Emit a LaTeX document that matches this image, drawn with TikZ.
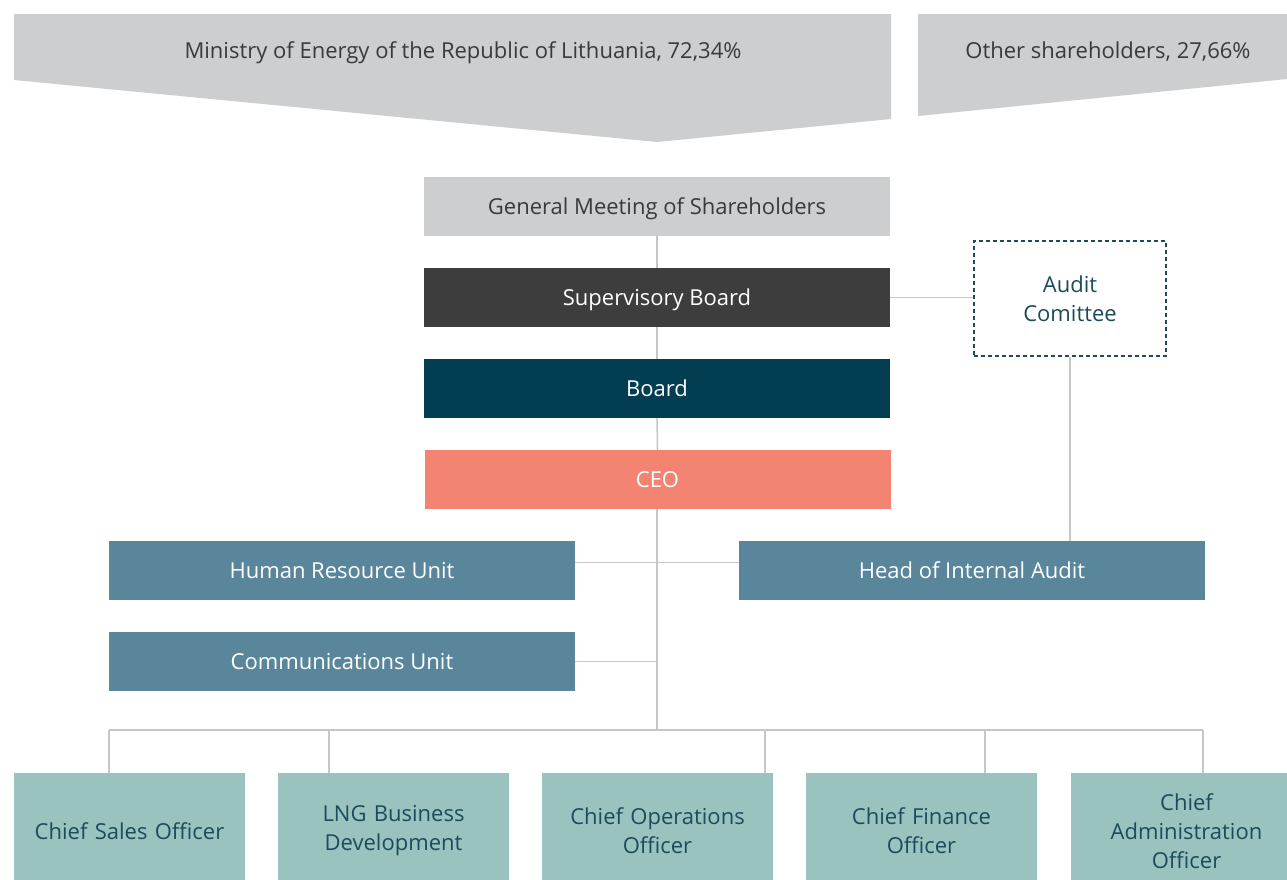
\documentclass[tikz,border=0pt]{standalone}
\usepackage{fontspec}
\setmainfont{Open Sans}
\usetikzlibrary{positioning}
\definecolor{shgrey}{HTML}{CDCED0}
\definecolor{sbgrey}{HTML}{3D3D3D}
\definecolor{boardteal}{HTML}{033D51}
\definecolor{ceored}{HTML}{F38472}
\definecolor{unitblue}{HTML}{5A869C}
\definecolor{chiefgreen}{HTML}{9AC3C0}
\definecolor{linegrey}{HTML}{C6C6C8}
\definecolor{darkteal}{HTML}{1B4B5C}
\definecolor{textgrey}{HTML}{3A3A3A}
\tikzset{
  txt/.style={font=\fontsize{22}{29}\selectfont},
  unit/.style={txt,minimum width=466pt,minimum height=59pt,inner sep=0pt,
    text height=16pt,text depth=0pt,text=white},
  chief/.style={txt,fill=chiefgreen,minimum width=231pt,minimum height=116pt,
    inner sep=0pt,text width=215pt,align=center,text=darkteal},
  link/.style={draw=linegrey,line width=1.5pt}
}
\begin{document}
\begin{tikzpicture}[x=1pt,y=-1pt]
\clip (0,0) rectangle (1287,879);
\fill[white] (0,0) rectangle (1287,879);
% shareholders
\fill[shgrey] (14,14) -- (891,14) -- (891,119) -- (657,142) -- (14,80) -- cycle;
\fill[shgrey] (918,14) -- (1287,14) -- (1287,79) -- (918,116) -- cycle;
\node[txt,text=textgrey,text height=16pt,text depth=0pt] (min) at (463,50) {Ministry of Energy of the Republic of Lithuania, 72,34\%};
\node[txt,text=textgrey,text height=16pt,text depth=0pt] (oth) at (1108,50) {Other shareholders, 27,66\%};
% governing bodies
\node[unit,fill=shgrey,text=textgrey] (gms) at (657,206.5) {General Meeting of Shareholders};
\node[unit,fill=sbgrey] (sb) at (657,297.5) {Supervisory Board};
\node[unit,fill=boardteal] (board) at (657,388.5) {Board};
\node[unit,fill=ceored] (ceo) at (657.5,479.5) {CEO};
\node[txt,draw=darkteal,line width=1.2pt,dash pattern=on 4pt off 3pt,
  minimum width=192pt,minimum height=115pt,align=center,text=darkteal] (ac) at (1070,298.5) {Audit\\Comittee};
% units
\node[unit,fill=unitblue] (hr) at (342,570.5) {Human Resource Unit};
\node[unit,fill=unitblue] (hia) at (972,570.5) {Head of Internal Audit};
\node[unit,fill=unitblue] (cu) at (342,661.5) {Communications Unit};
% chiefs
\node[chief] (cso) at (129.5,831) {Chief Sales Officer};
\node[chief] (lng) at (393.5,831) {LNG Business\\Development};
\node[chief] (coo) at (657.5,831) {Chief Operations\\Officer};
\node[chief] (cfo) at (921.5,831) {Chief Finance\\Officer};
\node[chief] (cao) at (1186.5,831) {Chief\\Administration\\Officer};
% lines
\coordinate (bus) at (657,730);
\coordinate (busL) at (109,730);
\coordinate (busR) at (1203,730);
\draw[link] (gms) -- (sb);
\draw[link] (sb) -- (board);
\draw[link] (board) -- (ceo);
\draw[link] (ceo.south -| bus) -- (bus);
\draw[link] (busL) -- (busR);
\draw[link] (sb.east) -- (sb.east -| ac.west);
\draw[link] (ac.south) -- (ac.south |- hia.north);
\draw[link] ([yshift=8pt]hr.east) -- ([yshift=8pt]hia.west);
\draw[link] (cu.east) -- (cu.east -| bus);
\foreach \n/\x in {cso/109,lng/329,coo/765,cfo/985,cao/1203}{
  \coordinate (d) at (\x,730);
  \draw[link] (d) -- (d |- \n.north);
}
\end{tikzpicture}
\end{document}
